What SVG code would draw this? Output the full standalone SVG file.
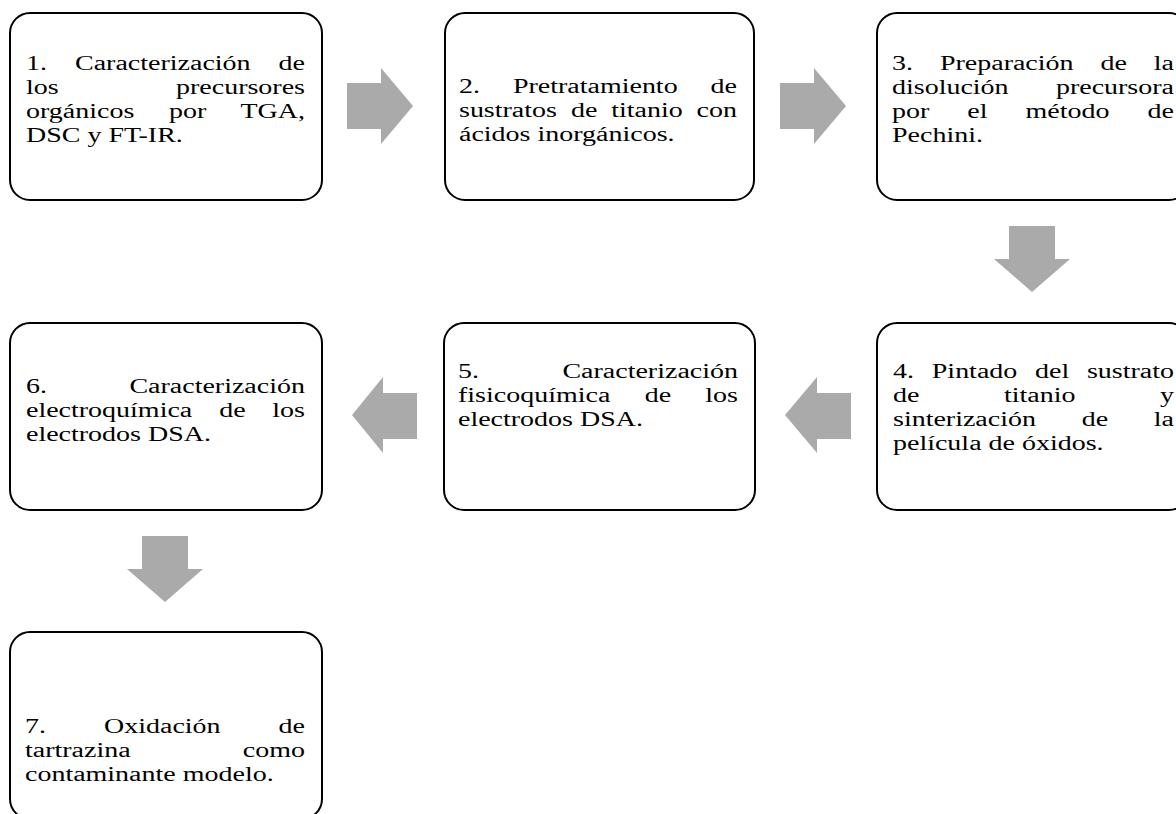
<svg xmlns="http://www.w3.org/2000/svg" width="1176" height="814" viewBox="0 0 1176 814">
<style>
.box{fill:#ffffff;stroke:#000000;stroke-width:2}
.t{font-family:"Liberation Serif","Times New Roman",serif;font-size:28px;fill:#000000}
.m{text-anchor:middle}
.e{text-anchor:end}
.arr{fill:#aaaaaa;stroke:none}
</style>
<rect x="0" y="0" width="1176" height="814" fill="#ffffff"/>
<g id="connectors">
<polygon class="arr" points="347,83 381,83 381,68 413,106 381,144 381,129 347,129"/>
<polygon class="arr" points="780,83 814,83 814,68 846,106 814,144 814,129 780,129"/>
<polygon class="arr" points="1009,226 1055,226 1055,259 1070,259 1032,292 994,259 1009,259"/>
<polygon class="arr" points="851,393 817,393 817,377 785,415 817,453 817,439 851,439"/>
<polygon class="arr" points="417,393 383,393 383,377 352,415 383,453 383,439 417,439"/>
<polygon class="arr" points="142,536 188,536 188,569 203,569 165,602 127,569 142,569"/>
</g>
<g id="node1">
<rect class="box" x="10" y="13" width="312" height="187" rx="20"/>
<g transform="translate(0,70) scale(1,0.78)"><text class="t" x="26" y="0">1.</text><text class="t m" x="162.8" y="0">Caracterización</text><text class="t e" x="305" y="0">de</text></g>
<g transform="translate(0,94) scale(1,0.78)"><text class="t" x="26" y="0">los</text><text class="t e" x="305" y="0">precursores</text></g>
<g transform="translate(0,118) scale(1,0.78)"><text class="t" x="26" y="0">orgánicos</text><text class="t m" x="187.7" y="0">por</text><text class="t e" x="305" y="0">TGA,</text></g>
<g transform="translate(0,142) scale(1,0.78)"><text class="t" x="26" y="0">DSC y FT-IR.</text></g>
</g>
<g id="node2">
<rect class="box" x="445" y="13" width="309" height="187" rx="20"/>
<g transform="translate(0,93) scale(1,0.78)"><text class="t" x="459" y="0">2.</text><text class="t m" x="595.3" y="0">Pretratamiento</text><text class="t e" x="737" y="0">de</text></g>
<g transform="translate(0,117) scale(1,0.78)"><text class="t" x="459" y="0">sustratos</text><text class="t m" x="626.8" y="0" word-spacing="6.9">de titanio</text><text class="t e" x="737" y="0">con</text></g>
<g transform="translate(0,141) scale(1,0.78)"><text class="t" x="459" y="0">ácidos inorgánicos.</text></g>
</g>
<g id="node3">
<rect class="box" x="877" y="13" width="312" height="187" rx="20"/>
<g transform="translate(0,70) scale(1,0.78)"><text class="t" x="892" y="0">3.</text><text class="t m" x="1033.4" y="0" word-spacing="19.9">Preparación de</text><text class="t e" x="1174" y="0">la</text></g>
<g transform="translate(0,94) scale(1,0.78)"><text class="t" x="892" y="0">disolución</text><text class="t e" x="1174" y="0">precursora</text></g>
<g transform="translate(0,118) scale(1,0.78)"><text class="t" x="892" y="0">por</text><text class="t m" x="1038.4" y="0" word-spacing="31">el método</text><text class="t e" x="1174" y="0">de</text></g>
<g transform="translate(0,142) scale(1,0.78)"><text class="t" x="892" y="0">Pechini.</text></g>
</g>
<g id="node4">
<rect class="box" x="877" y="323" width="312" height="187" rx="20"/>
<g transform="translate(0,378) scale(1,0.78)"><text class="t" x="893" y="0">4.</text><text class="t m" x="1000.5" y="0" word-spacing="10.7">Pintado del</text><text class="t e" x="1174" y="0">sustrato</text></g>
<g transform="translate(0,402) scale(1,0.78)"><text class="t" x="893" y="0">de</text><text class="t m" x="1039.7" y="0">titanio</text><text class="t e" x="1174" y="0">y</text></g>
<g transform="translate(0,426) scale(1,0.78)"><text class="t" x="893" y="0">sinterización</text><text class="t m" x="1095" y="0">de</text><text class="t e" x="1174" y="0">la</text></g>
<g transform="translate(0,450) scale(1,0.78)"><text class="t" x="893" y="0">película de óxidos.</text></g>
</g>
<g id="node5">
<rect class="box" x="444" y="323" width="311" height="187" rx="20"/>
<g transform="translate(0,378) scale(1,0.78)"><text class="t" x="458" y="0">5.</text><text class="t e" x="738" y="0">Caracterización</text></g>
<g transform="translate(0,402) scale(1,0.78)"><text class="t" x="458" y="0">fisicoquímica</text><text class="t m" x="657.9" y="0">de</text><text class="t e" x="738" y="0">los</text></g>
<g transform="translate(0,426) scale(1,0.78)"><text class="t" x="458" y="0">electrodos DSA.</text></g>
</g>
<g id="node6">
<rect class="box" x="10" y="323" width="312" height="187" rx="20"/>
<g transform="translate(0,393) scale(1,0.78)"><text class="t" x="26" y="0">6.</text><text class="t e" x="305" y="0">Caracterización</text></g>
<g transform="translate(0,417) scale(1,0.78)"><text class="t" x="26" y="0">electroquímica</text><text class="t m" x="232.4" y="0">de</text><text class="t e" x="305" y="0">los</text></g>
<g transform="translate(0,441) scale(1,0.78)"><text class="t" x="26" y="0">electrodos DSA.</text></g>
</g>
<g id="node7">
<rect class="box" x="10" y="632" width="312" height="187" rx="20"/>
<g transform="translate(0,733) scale(1,0.78)"><text class="t" x="25" y="0">7.</text><text class="t m" x="162.3" y="0">Oxidación</text><text class="t e" x="305" y="0">de</text></g>
<g transform="translate(0,757) scale(1,0.78)"><text class="t" x="25" y="0">tartrazina</text><text class="t e" x="305" y="0">como</text></g>
<g transform="translate(0,781) scale(1,0.78)"><text class="t" x="25" y="0">contaminante modelo.</text></g>
</g>
</svg>
